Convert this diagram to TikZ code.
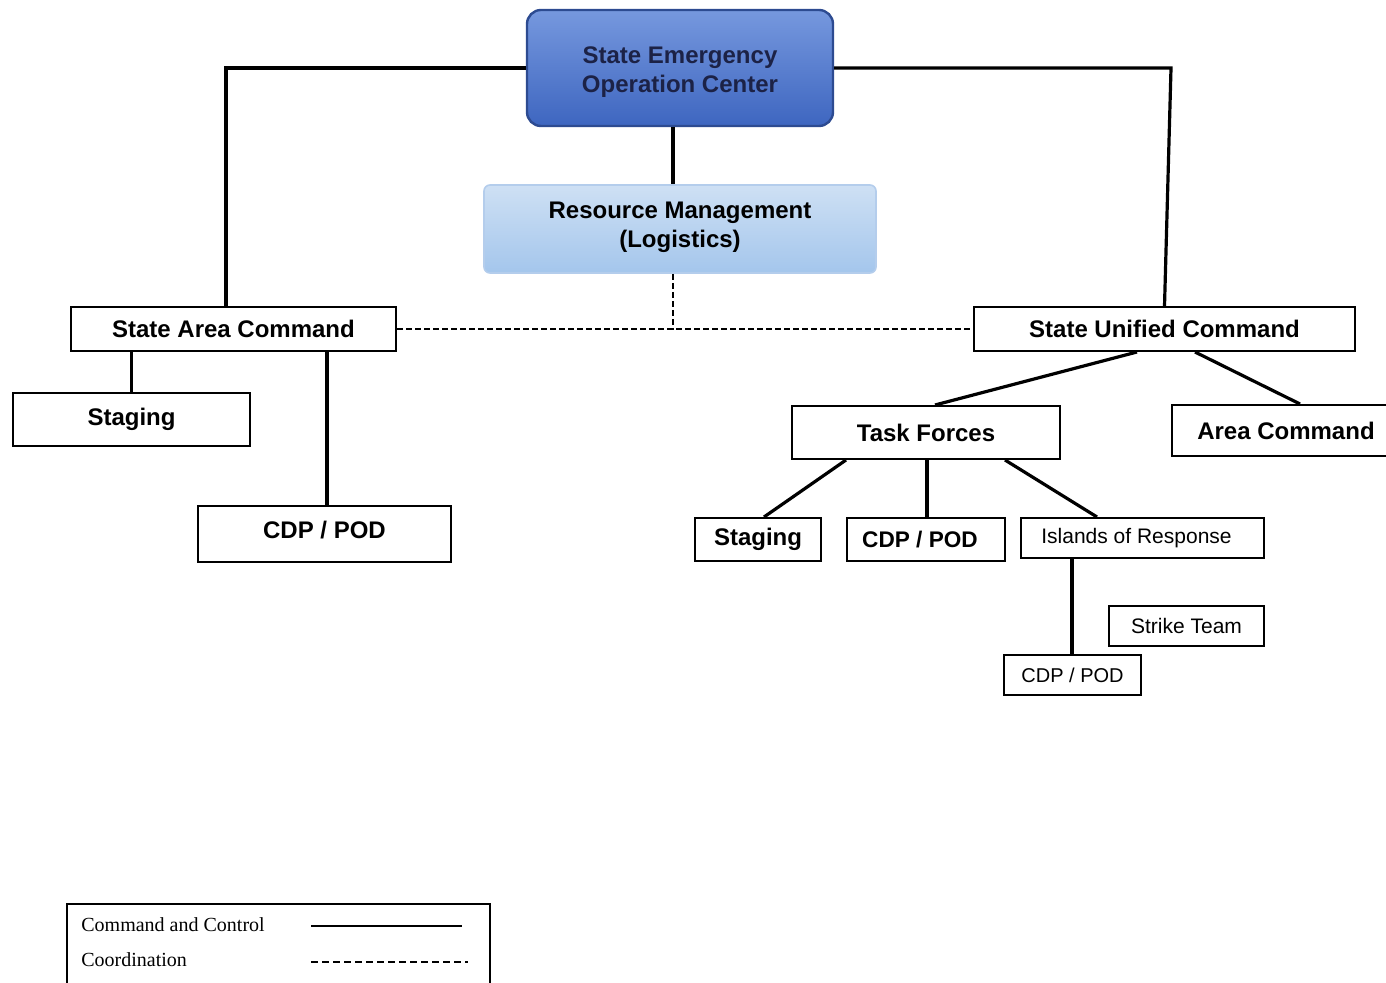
\documentclass[tikz,border=0pt]{standalone}
\usepackage{fontspec}
\setmainfont{Liberation Sans}
\newfontfamily\legendfont{Liberation Serif}
\definecolor{seoctop}{RGB}{118,152,222}
\definecolor{seocbot}{RGB}{62,102,192}
\definecolor{seocdraw}{RGB}{45,75,145}
\definecolor{seoctext}{RGB}{28,34,70}
\definecolor{rmtop}{RGB}{206,224,244}
\definecolor{rmbot}{RGB}{164,198,236}
\definecolor{rmdraw}{RGB}{180,205,236}
\begin{document}
\begin{tikzpicture}[x=0.5pt,y=-0.5pt,
  box/.style={draw=black,line width=1pt,fill=white,inner sep=0pt,align=center},
  bigtxt/.style={font=\fontsize{12}{14.5}\selectfont\bfseries},
  smalltxt/.style={font=\fontsize{10.5}{12}\selectfont},
  cmd/.style={line width=1.6pt},
  coord/.style={line width=1.3pt,dash pattern=on 3pt off 1.5pt}]
\useasboundingbox (0,0) rectangle (1386,983);

% top boxes
\node[draw=seocdraw,line width=1.2pt,rounded corners=7pt,top color=seoctop,bottom color=seocbot,
  minimum width=153pt,minimum height=58pt,inner sep=0pt,align=center,text=seoctext,bigtxt]
  (seoc) at (680,68) {\raisebox{-2pt}[\height][\depth]{\begin{tabular}{@{}c@{}}State Emergency\\Operation Center\end{tabular}}};
\node[draw=rmdraw,line width=0.8pt,rounded corners=3pt,top color=rmtop,bottom color=rmbot,
  minimum width=196pt,minimum height=44pt,inner sep=0pt,align=center,bigtxt]
  (rm) at (680,229) {\raisebox{1pt}[\height][\depth]{\begin{tabular}{@{}c@{}}Resource Management\\(Logistics)\end{tabular}}};

% left branch
\node[box,bigtxt,minimum width=162.5pt,minimum height=22pt] (sac) at (233.5,329) {State Area Command};
\node[box,bigtxt,minimum width=118.5pt,minimum height=26.5pt] (stagl) at (131.5,419.5) {Staging};
\node[box,bigtxt,minimum width=126.5pt,minimum height=28pt] (cdpl) at (324.5,534) {\raisebox{2pt}[\height][\depth]{CDP / POD}};

% right branch
\node[box,bigtxt,minimum width=190.5pt,minimum height=22pt] (suc) at (1164.5,329) {State Unified Command};
\node[box,bigtxt,minimum width=134pt,minimum height=26.5pt] (tf) at (926,432.5) {Task Forces};
\node[box,bigtxt,minimum width=114pt,minimum height=25.5pt] (ac) at (1286,430.5) {Area Command};
\node[box,bigtxt,minimum width=63pt,minimum height=21.5pt] (stagr) at (758,539.5) {Staging};
\node[box,font=\fontsize{11.3}{13}\selectfont\bfseries,minimum width=79pt,minimum height=21.5pt] (cdpm) at (926,539.5) {\hspace*{-6pt}CDP / POD};
\node[box,smalltxt,minimum width=121.5pt,minimum height=20pt] (ior) at (1142.5,538) {\hspace*{-6pt}Islands of Response};
\node[box,smalltxt,minimum width=77.5pt,minimum height=20pt] (st) at (1186.5,626) {Strike Team};
\node[box,font=\fontsize{10}{12}\selectfont,minimum width=68.5pt,minimum height=20pt] (cdpb) at (1072.5,675) {CDP / POD};

% command connectors
\coordinate (cr) at (1171,68);
\draw[cmd] (seoc.west) -| ([xshift=-3.75pt]sac.north);
\draw[cmd,line join=miter] (seoc.east) -- (cr) -- (suc.north);
\draw[cmd] ([xshift=-3.5pt]seoc.south) -- ([xshift=-3.5pt]rm.north);
\draw[cmd] (stagl.north) -- (stagl.north |- sac.south);
\draw[line width=2.1pt] ([xshift=1.25pt]cdpl.north) -- ([xshift=1.25pt]cdpl.north |- sac.south);
\draw[cmd] ([xshift=-13.75pt]suc.south) -- ([xshift=4.5pt]tf.north);
\draw[cmd] ([xshift=15.25pt]suc.south) -- ([xshift=7pt]ac.north);
\draw[cmd] ([xshift=-40pt]tf.south) -- ([xshift=3pt]stagr.north);
\draw[cmd] ([xshift=0.5pt]tf.south) -- ([xshift=0.5pt]cdpm.north);
\draw[cmd] ([xshift=39.5pt]tf.south) -- ([xshift=-22.75pt]ior.north);
\draw[cmd] ([xshift=-35.25pt]ior.south) -- ([xshift=-35.25pt]ior.south |- cdpb.north);

% coordination connectors
\coordinate (jn) at (673,330);
\draw[coord] ([xshift=-3.5pt]rm.south) -- (jn);
\draw[coord] (sac.east) -- (suc.west);

% legend
\draw[line width=0.8pt] (67,1000) -- (67,904) -- (490,904) -- (490,1000);
\node[anchor=west,inner sep=0pt,font=\legendfont\fontsize{10}{12}\selectfont] (lg1) at (81,925) {Command and Control};
\node[anchor=west,inner sep=0pt,font=\legendfont\fontsize{10}{12}\selectfont] (lg2) at (81,960) {Coordination};
\coordinate (l1a) at (311,926); \coordinate (l1b) at (462,926);
\coordinate (l2a) at (311,962); \coordinate (l2b) at (468,962);
\draw[line width=1.3pt] (l1a) -- (l1b);
\draw[line width=1.3pt,dash pattern=on 3.5pt off 2pt] (l2a) -- (l2b);
\end{tikzpicture}
\end{document}
